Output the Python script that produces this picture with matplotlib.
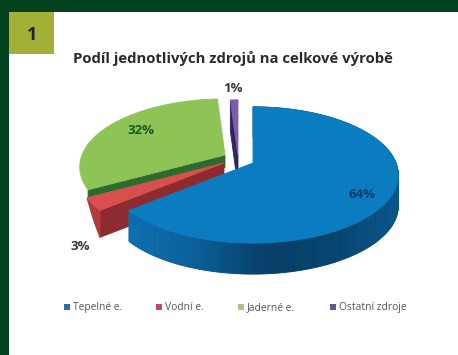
import numpy as np
import matplotlib
matplotlib.use("Agg")
import matplotlib.pyplot as plt
from matplotlib.colors import LinearSegmentedColormap
from matplotlib.patches import Polygon, Rectangle

# Podíl zdrojů na výrobě
zdroje = ["Tepelné e.", "Vodní e.", "Jaderné e.", "Ostatní zdroje"]
podily = [64, 3, 32, 1]
popisky = ["64%", "3%", "32%", "1%"]

barvy = ["#0b7cc0", "#d8504e", "#8ec356", "#7d5caa"]
bocni = ["#0b5f97", "#8e2b2e", "#2c6b2f", "#2b2560"]
legenda = ["#2f6fa8", "#c8476a", "#b3c08c", "#5d5c8c"]

# stred kazde vysece po vysunuti (px)
stredy = [(253, 163), (224, 163), (225, 155), (238, 156)]
pozice = [(362, 194), (80, 246), (141, 130), (233, 89)]
barvy_popisku = ["#0a3c66", "#3a3a3a", "#1c5a25", "#3a3a3a"]
leg_x = [67, 159, 241, 333]

A, B, P = 143, 66, 0.176  # velikost elipsy a perspektiva
VYSKA = 31

modra_strana = LinearSegmentedColormap.from_list(
    "strana", ["#0c6fae", "#0a5f98", "#063f68", "#06426c", "#07568a"])


def obvod(uhly, stred):
    # bod na kruhu -> souradnice v obrazku
    t = np.radians(uhly)
    u, v = np.sin(t), np.cos(t)
    d = 1 + P * v
    return np.column_stack([stred[0] + A * u / d, stred[1] - B * v / d])


def plocha(ax, body, barva):
    ax.add_patch(Polygon(body, facecolor=barva, edgecolor=barva, lw=0.6))


fig = plt.figure(figsize=(4.58, 3.55), dpi=100, facecolor="#03421f")
ax = fig.add_axes([0, 0, 1, 1])
ax.set_xlim(0, 458)
ax.set_ylim(355, 0)
ax.axis("off")

ax.add_patch(Rectangle((9, 12), 449, 343, color="white", lw=0))
ax.add_patch(Rectangle((9, 12), 45, 42, color="#a2b038", lw=0))
ax.text(32, 35, "1", fontsize=13, family="Open Sans", weight="bold",
        color="#222222", ha="center", va="center")
ax.text(233, 59, "Podíl jednotlivých zdrojů na celkové výrobě", fontsize=10.7,
        family="Open Sans", weight="bold", color="#2b2b2b", ha="center", va="center")

hrany = np.cumsum([0] + podily) * 3.6
dolu = np.array([0, VYSKA])

# zelena: z rezne plochy je videt jen pruh nad cervenou
st = stredy[2]
okraj = obvod(np.array([hrany[2]]), st)[0]
plocha(ax, [st, okraj, okraj + dolu * 0.4, st + dolu * 0.4], bocni[2])
plocha(ax, np.vstack([st, obvod(np.linspace(hrany[2], hrany[3], 120), st)]), barvy[2])

# cervena: plast se zuzuje k zadnimu okraji, pred nim rezna plocha
st = stredy[1]
rim = obvod(np.linspace(hrany[1], hrany[2], 20), st)
spodek = rim + np.outer(np.linspace(VYSKA - 4, 0, 20), [0, 1])
plocha(ax, [st, rim[0], rim[0] + dolu * 0.87, st + dolu * 0.87], bocni[1])
plocha(ax, np.vstack([rim, spodek[::-1]]), "#b23a3c")
plocha(ax, np.vstack([st, rim]), barvy[1])

# fialova
st = stredy[3]
okraj = obvod(np.array([hrany[3]]), st)[0]
plocha(ax, [st, okraj, okraj + dolu, st + dolu], bocni[3])
plocha(ax, np.vstack([st, obvod(np.linspace(hrany[3], hrany[4], 10), st)]), barvy[3])

# modra: plast s prechodem a horni plocha
st = stredy[0]
rim = obvod(np.linspace(hrany[0], hrany[1], 300), st)
for p, q in zip(rim[:-1], rim[1:]):
    c = modra_strana(1 - np.clip((398 - p[0]) / 270, 0, 1))
    plocha(ax, [p, q, q + dolu, p + dolu], c)
plocha(ax, np.vstack([st, rim]), barvy[0])

for txt, (x, y), c in zip(popisky, pozice, barvy_popisku):
    ax.text(x, y, txt, fontsize=9.5, family="Open Sans", weight="bold",
            color=c, ha="center", va="center")

for x, nazev, c in zip(leg_x, zdroje, legenda):
    ax.add_patch(Rectangle((x - 3, 304), 6, 6, color=c, lw=0))
    ax.text(x + 6, 307.5, nazev, fontsize=7.4, family="Open Sans", color="#555555",
            ha="left", va="center")

fig.savefig("out.png", dpi=100, facecolor=fig.get_facecolor())
